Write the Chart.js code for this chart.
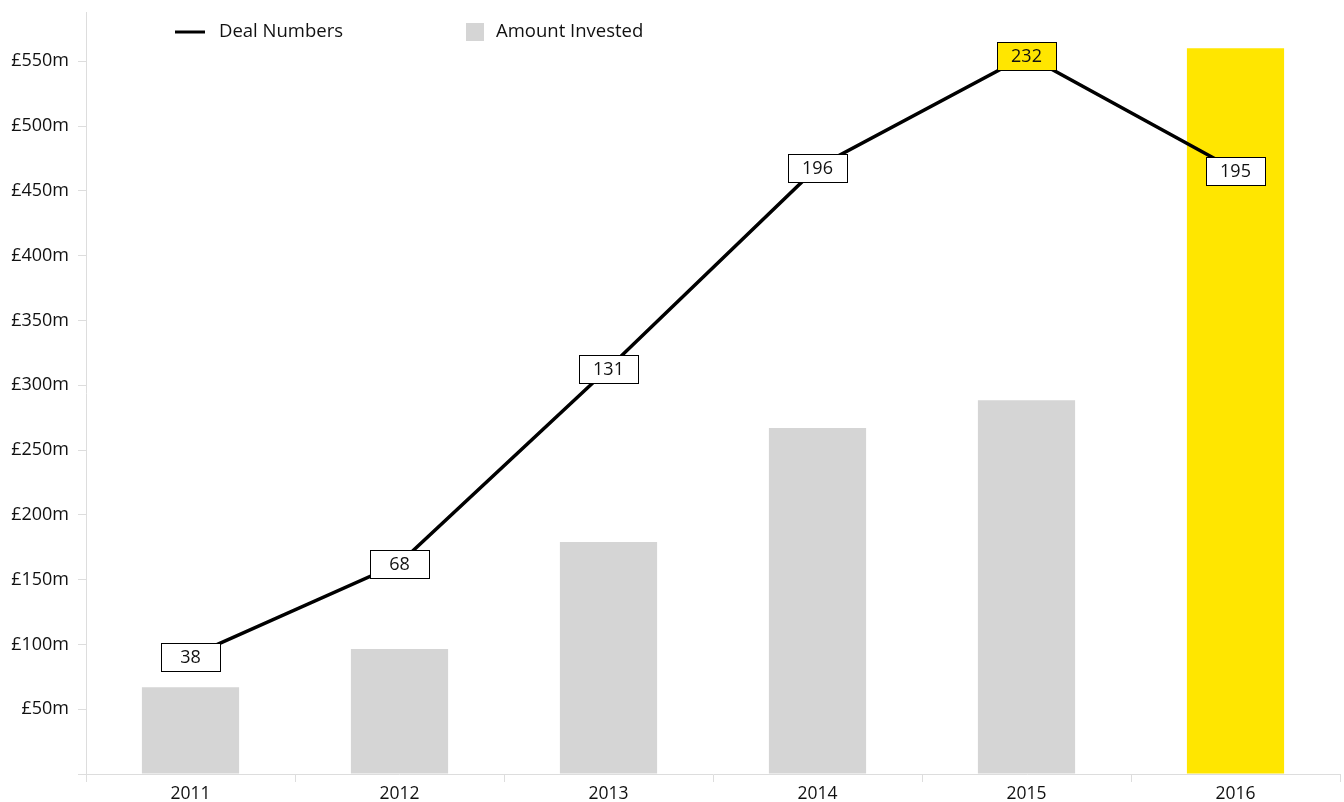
<!DOCTYPE html>
<html lang="en">

<head>
    <meta charset="UTF-8">
    <title>Deal Numbers and Amount Invested</title>
    <script src="https://cdn.jsdelivr.net/npm/chart.js"></script>
    <style>
        html, body {
            margin: 0;
            padding: 0;
            background: #ffffff;
        }

        .wrap {
            width: 1344px;
            height: 802px;
        }
    </style>
</head>

<body>
    <div class="wrap">
        <canvas id="grafico" width="1344" height="802"></canvas>
    </div>

<script>
    // data
    var anos = ['2011', '2012', '2013', '2014', '2015', '2016'];
    var investido = [67, 96.5, 179, 267, 288.5, 560];   // £m
    var negocios = [38, 68, 131, 196, 232, 195];        // deal numbers
    var ticksY = [50, 100, 150, 200, 250, 300, 350, 400, 450, 500, 550];

    var CINZA = '#d5d5d5';
    var AMARELO = '#ffe600';
    var FONTE = '"Open Sans", sans-serif';
    var TEXTO = '#111111';

    var coresBarras = anos.map(function (a, i) {
        return i == anos.length - 1 ? AMARELO : CINZA;
    });
    // highest deal count gets a yellow label
    var maxNegocios = Math.max.apply(null, negocios);

    var rotulos = {
        id: 'rotulos',
        afterDatasetsDraw: function (chart) {
            var ctx = chart.ctx;
            var meta = chart.getDatasetMeta(0);
            ctx.save();
            ctx.font = '18px ' + FONTE;
            ctx.textAlign = 'center';
            ctx.textBaseline = 'middle';
            meta.data.forEach(function (p, i) {
                var v = chart.data.datasets[0].data[i];
                var w = 59, h = 28;
                var x = Math.round(p.x - w / 2) + 0.5;
                var y = Math.round(p.y - h / 2 + 1) + 0.5;
                ctx.fillStyle = v == maxNegocios ? AMARELO : '#ffffff';
                ctx.fillRect(x, y, w, h);
                ctx.strokeStyle = '#000000';
                ctx.lineWidth = 1;
                ctx.strokeRect(x, y, w, h);
                ctx.fillStyle = TEXTO;
                ctx.fillText(String(v), p.x, p.y + 2);
            });
            ctx.restore();
        }
    };

    var legenda = {
        id: 'legenda',
        afterDraw: function (chart) {
            var ctx = chart.ctx;
            var ds = chart.data.datasets;
            ctx.save();
            ctx.font = '18.5px ' + FONTE;
            ctx.textAlign = 'left';
            ctx.textBaseline = 'middle';
            ctx.fillStyle = TEXTO;
            // line item
            ctx.strokeStyle = ds[0].borderColor;
            ctx.lineWidth = 3;
            ctx.beginPath();
            ctx.moveTo(175, 32);
            ctx.lineTo(205, 32);
            ctx.stroke();
            ctx.fillText(ds[0].label, 219, 32);
            // bar item
            ctx.fillStyle = CINZA;
            ctx.fillRect(466, 23, 18, 18);
            ctx.fillStyle = TEXTO;
            ctx.fillText(ds[1].label, 496, 32);
            ctx.restore();
        }
    };

    var grafico = new Chart(document.getElementById('grafico').getContext('2d'), {
        type: 'bar',
        data: {
            labels: anos,
            datasets: [{
                type: 'line',
                label: 'Deal Numbers',
                data: negocios,
                borderColor: '#000000',
                borderWidth: 3.5,
                pointRadius: 0,
                tension: 0,
                yAxisID: 'y2',
                order: 0
            }, {
                type: 'bar',
                label: 'Amount Invested',
                data: investido,
                backgroundColor: coresBarras,
                categoryPercentage: 1,
                barPercentage: 0.465,
                yAxisID: 'y',
                order: 1
            }]
        },
        options: {
            responsive: false,
            animation: false,
            layout: {
                padding: { top: 12, right: 4, left: 0, bottom: 0 }
            },
            plugins: {
                legend: { display: false },
                tooltip: { enabled: false }
            },
            scales: {
                x: {
                    offset: true,
                    grid: {
                        offset: true,
                        drawOnChartArea: false,
                        drawTicks: true,
                        tickLength: 8,
                        color: '#dddddd'
                    },
                    border: { display: true, color: '#dddddd' },
                    ticks: {
                        color: TEXTO,
                        padding: 2,
                        font: { size: 17.5, family: FONTE }
                    },
                    afterFit: function (s) { s.height = 28; }
                },
                y: {
                    min: 0,
                    max: 588,
                    grid: {
                        drawOnChartArea: false,
                        drawTicks: true,
                        tickLength: 8,
                        color: '#dddddd'
                    },
                    border: { display: true, color: '#dddddd' },
                    afterBuildTicks: function (s) {
                        s.ticks = [{ value: 0 }].concat(ticksY.map(function (v) { return { value: v }; }));
                    },
                    ticks: {
                        color: TEXTO,
                        padding: 9,
                        font: { size: 18, family: FONTE },
                        callback: function (v) { return v == 0 ? '' : '£' + v + 'm'; }
                    },
                    afterFit: function (s) {
                        s.width = 86;
                        s.paddingTop = 0;
                        s.paddingBottom = 0;
                    }
                },
                y2: {
                    display: false,
                    min: 0,
                    max: 246
                }
            }
        },
        plugins: [rotulos, legenda]
    });
</script>
</body>

</html>
